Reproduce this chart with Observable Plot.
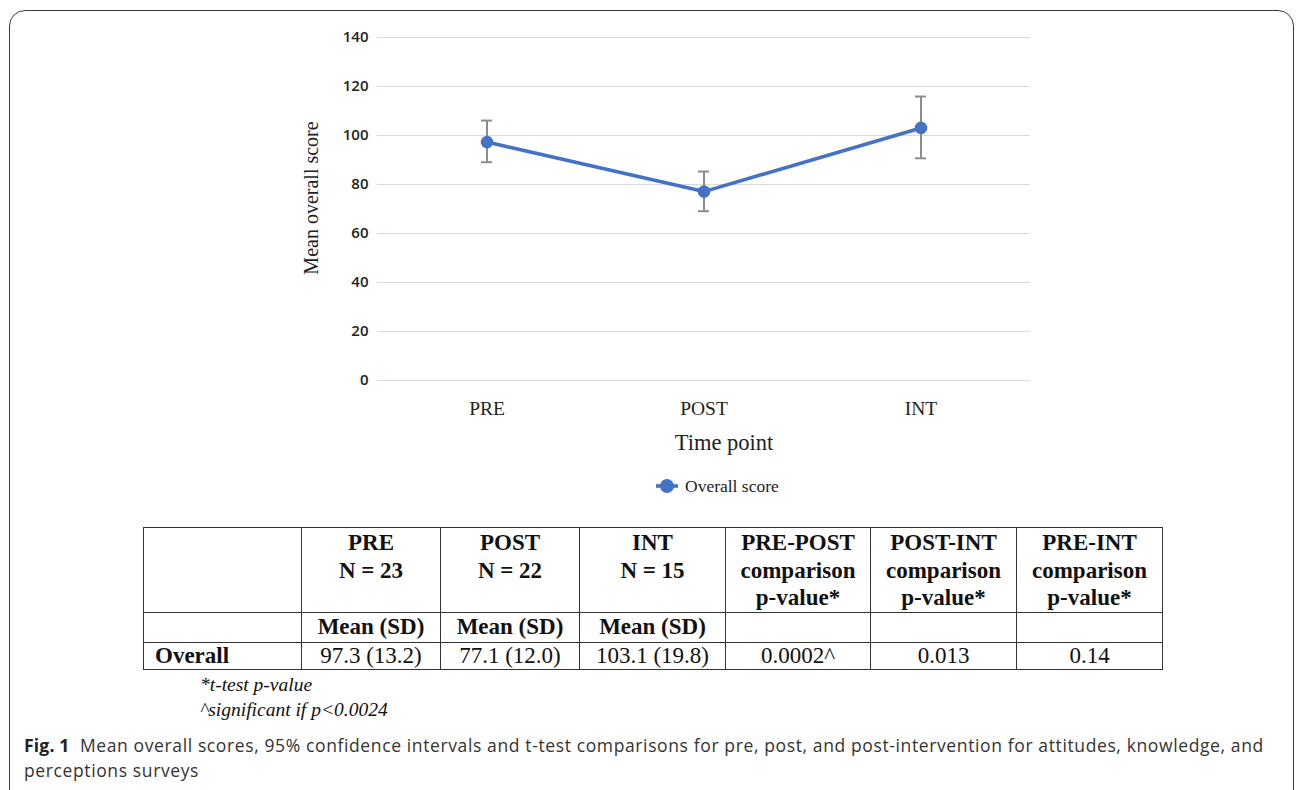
<!DOCTYPE html>
<html>
<head>
<meta charset="utf-8">
<script src="https://cdn.jsdelivr.net/npm/d3@7"></script>
<script src="https://cdn.jsdelivr.net/npm/@observablehq/plot@0.6"></script>
<style>
  html, body { margin: 0; padding: 0; background: #fff; }
  body { width: 1298px; height: 790px; overflow: hidden; position: relative; font-family: "Liberation Serif", "Times New Roman", serif; color: #111; }
  #frame { position: absolute; left: 9px; top: 10px; width: 1285px; height: 820px; border: 1.6px solid #3c3c3c; border-radius: 16px; box-sizing: border-box; }
  #chart { position: absolute; left: 0; top: 0; }
  #legend { position: absolute; left: 0; top: 474px; width: 1298px; height: 24px; }
  #legend .item { position: absolute; left: 652px; top: 0; display: flex; align-items: center; height: 24px; font-size: 17.5px; color: #222; }
  #legend svg { margin-right: 3px; }
  #tbl { position: absolute; left: 143px; top: 527px; border-collapse: collapse; table-layout: fixed; font-size: 23px; color: #111; }
  #tbl td { border: 1.5px solid #333; padding: 0; text-align: center; line-height: 27.5px; overflow: hidden; white-space: nowrap; }
  #tbl tr.h td { height: 82px; vertical-align: top; font-weight: bold; padding-top: 1px; }
  #tbl tr.m td { height: 29px; font-weight: bold; vertical-align: middle; }
  #tbl tr.v td { height: 26px; vertical-align: middle; line-height: 24px; }
  #tbl tr.v td.first { text-align: left; padding-left: 11px; font-weight: bold; }
  #notes { position: absolute; left: 200px; top: 672px; font-style: italic; font-size: 19.5px; line-height: 25px; color: #111; }
  #caption { position: absolute; left: 24px; top: 733px; font-family: "Open Sans", "Noto Sans", sans-serif; font-size: 17.5px; letter-spacing: 0.62px; line-height: 25px; color: #333; white-space: nowrap; }
  #caption b { color: #222; letter-spacing: 0.2px; }
</style>
</head>
<body>
<div id="frame"></div>
<div id="chart"></div>
<div id="legend"></div>
<table id="tbl"></table>
<div id="notes"></div>
<div id="caption"></div>
<script>
// ---- data ----
const timePoints = ["PRE", "POST", "INT"];
const means = [97.3, 77.1, 103.1];
const ciLow = [89.1, 69.1, 90.7];
const ciHigh = [106.1, 85.3, 115.9];
const yTicks = [0, 20, 40, 60, 80, 100, 120, 140];
const sampleSizes = [23, 22, 15];
const sds = [13.2, 12.0, 19.8];
const comparisons = ["PRE-POST", "POST-INT", "PRE-INT"];
const pValues = ["0.0002^", "0.013", "0.14"];
const seriesName = "Overall score";
const yLabel = "Mean overall score";
const xLabel = "Time point";
const footnotes = ["*t-test p-value", "^significant if p<0.0024"];
const captionLines = [
  "Mean overall scores, 95% confidence intervals and t-test comparisons for pre, post, and post-intervention for attitudes, knowledge, and",
  "perceptions surveys"
];

const blue = "#4472C4";
const data = timePoints.map((t, i) => ({time: t, mean: means[i], lo: ciLow[i], hi: ciHigh[i]}));

const chart = Plot.plot({
  width: 1298,
  height: 460,
  marginLeft: 377,
  marginRight: 268,
  marginTop: 37,
  marginBottom: 80,
  style: {background: "transparent", overflow: "visible"},
  x: {type: "band", domain: timePoints, padding: 0},
  y: {domain: [0, 140]},
  marks: [
    Plot.gridY(yTicks, {stroke: "#d9d9d9", strokeOpacity: 1, strokeWidth: 1.2}),
    Plot.axisY(yTicks, {tickSize: 0, tickPadding: 9, label: null, fontSize: 15, fontFamily: "'Open Sans', sans-serif", fontWeight: 600, fill: "#222"}),
    Plot.axisX({tickSize: 0, tickPadding: 21, label: null, fontSize: 19.5, fontFamily: "'Liberation Serif', serif", fill: "#222"}),
    Plot.text([yLabel], {text: d => d, frameAnchor: "left", textAnchor: "middle", lineAnchor: "middle", rotate: -90, dx: -66, dy: -11, fontSize: 20, fontFamily: "'Liberation Serif', serif", fill: "#222"}),
    Plot.text([xLabel], {text: d => d, frameAnchor: "bottom", lineAnchor: "middle", dy: 62, dx: 20, fontSize: 22.5, fontFamily: "'Liberation Serif', serif", fill: "#222"}),
    Plot.ruleX(data, {x: "time", y1: "lo", y2: "hi", stroke: "#8c8c8c", strokeWidth: 2}),
    Plot.tickY(data, {x: "time", y: "lo", stroke: "#8c8c8c", strokeWidth: 2, insetLeft: 103, insetRight: 103}),
    Plot.tickY(data, {x: "time", y: "hi", stroke: "#8c8c8c", strokeWidth: 2, insetLeft: 103, insetRight: 103}),
    Plot.line(data, {x: "time", y: "mean", stroke: blue, strokeWidth: 3.6}),
    Plot.dot(data, {x: "time", y: "mean", r: 6.3, fill: blue, stroke: "none"})
  ]
});
document.getElementById("chart").appendChild(chart);

// legend
document.getElementById("legend").innerHTML =
  `<div class="item"><svg width="30" height="16" viewBox="0 0 30 16"><line x1="4" y1="8" x2="26" y2="8" stroke="${blue}" stroke-width="3.6"/><circle cx="15" cy="8" r="7" fill="${blue}"/></svg>${seriesName}</div>`;

// table
const colWidths = [158, 139, 139, 146, 145, 146, 146];
const tbl = document.getElementById("tbl");
const cg = document.createElement("colgroup");
colWidths.forEach(w => { const c = document.createElement("col"); c.style.width = w + "px"; cg.appendChild(c); });
tbl.appendChild(cg);
const rows = [
  {cls: "h", cells: ["", ...timePoints.map((t, i) => `${t}<br>N = ${sampleSizes[i]}`), ...comparisons.map(c => `${c}<br>comparison<br>p-value*`)]},
  {cls: "m", cells: ["", ...timePoints.map(() => "Mean (SD)"), "", "", ""]},
  {cls: "v", cells: ["Overall", ...means.map((m, i) => `${m.toFixed(1)} (${sds[i].toFixed(1)})`), ...pValues]}
];
rows.forEach(r => {
  const tr = document.createElement("tr");
  tr.className = r.cls;
  r.cells.forEach((c, j) => {
    const td = document.createElement("td");
    if (j === 0) td.className = "first";
    td.innerHTML = c;
    tr.appendChild(td);
  });
  tbl.appendChild(tr);
});

document.getElementById("notes").innerHTML = footnotes.join("<br>");
document.getElementById("caption").innerHTML = `<b>Fig. 1</b>&nbsp; ${captionLines[0]}<br>${captionLines[1]}`;
</script>
</body>
</html>
